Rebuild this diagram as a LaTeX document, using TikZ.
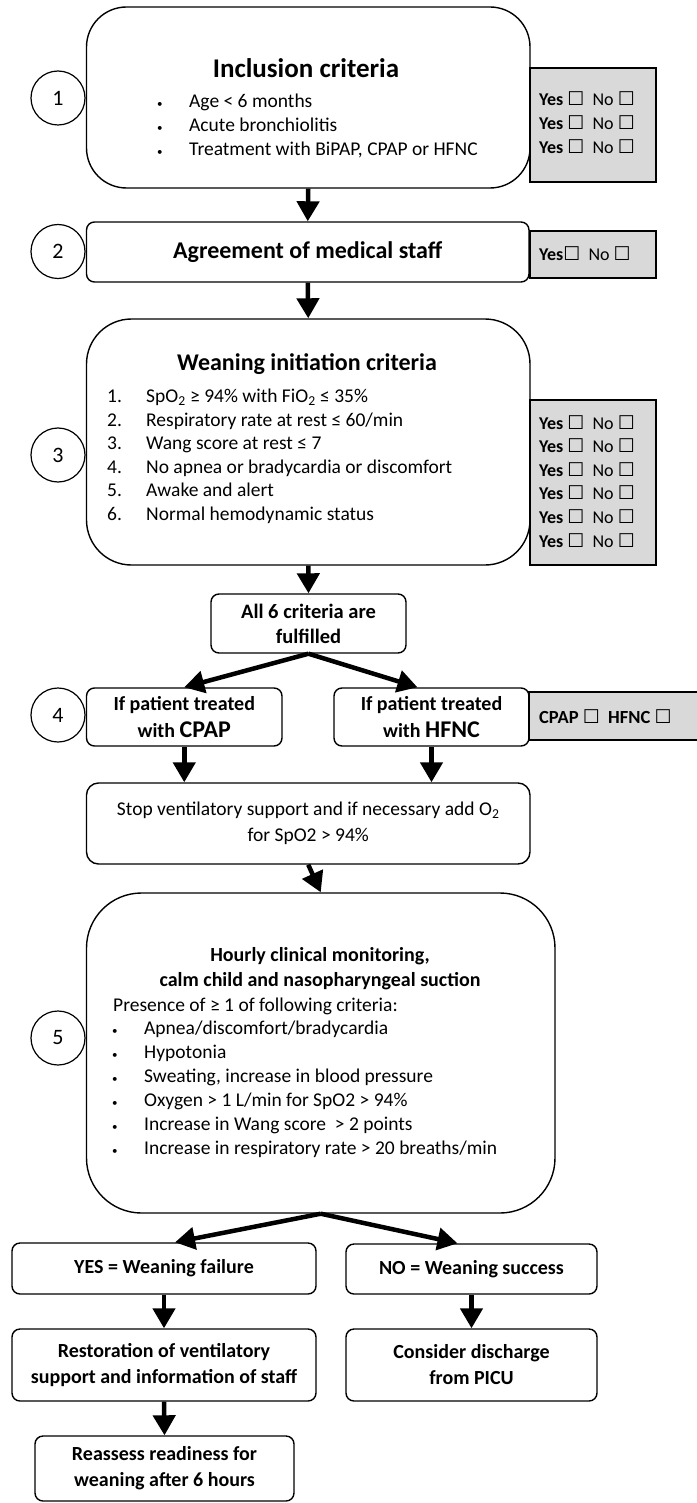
\documentclass[tikz,border=0pt]{standalone}
\usepackage{fontspec}
\setmainfont{Carlito}
\newfontfamily\symfont{DejaVu Sans}
\usetikzlibrary{arrows.meta,calc}
\definecolor{boxgray}{HTML}{D9D9D9}
\newcommand{\chk}{{\symfont\fontsize{19}{19}\selectfont ☐}}
\newcommand{\chkb}{{\symfont\bfseries\fontsize{19}{19}\selectfont ☐}}
\newcommand{\blt}{{\fontsize{11}{11}\selectfont\textbullet}}

\begin{document}
\begin{tikzpicture}[x=1pt,y=-1pt,
  box/.style={draw, line width=1.4pt, rounded corners=8pt, inner sep=0pt, align=center},
  graybox/.style={draw, line width=1.6pt, fill=boxgray, inner sep=0pt},
  numcirc/.style={circle, draw, line width=1.2pt, minimum size=54pt, inner sep=0pt, font=\fontsize{22}{22}\selectfont},
  head/.style={inner sep=0pt, text height=0.72em, text depth=0.22em},
  lst/.style={inner sep=0pt, font=\fontsize{19.5}{24}\selectfont},
  yn/.style={inner sep=0pt, font=\fontsize{18}{23.6}\selectfont},
  flow/.style={line width=4.5pt, -{Triangle[width=22pt,length=20pt]}}]
  % \draw[step=50,thin,gray!40] (0,0) grid (696,1503);
  \useasboundingbox (0,0) rectangle (696,1503);

  % 1
  \node[box, rounded corners=40pt, minimum width=443.5pt, minimum height=181pt] (inclBox) at (308.25,97.5) {};
  \node[graybox, minimum width=126pt, minimum height=114pt] (yesNoA) at (593,125) {};
  \node[numcirc] (circleOne) at (58,98) {1};
  \node[head, font=\bfseries\fontsize{27}{27}\selectfont] (inclTitle) at (306,75) {Inclusion criteria};
  \node[lst, anchor=base west] (inclList) at (157,107.5) {\begin{tabular}[t]{@{}p{32pt}@{}l@{}}
    \blt & Age < 6 months\\
    \blt & Acute bronchiolitis\\
    \blt & Treatment with BiPAP, CPAP or HFNC
  \end{tabular}};
  \node[yn, anchor=base west] (yesNoAText) at (539,106) {\begin{tabular}[t]{@{}l@{}}
    \textbf{Yes} \chkb\ \ No \chk\\
    \textbf{Yes} \chkb\ \ No \chk\\
    \textbf{Yes} \chkb\ \ No \chk
  \end{tabular}};

  % 2
  \node[box, minimum width=442.5pt, minimum height=60pt, font=\bfseries\fontsize{24}{24}\selectfont] (agreeBox) at (307.75,252) {Agreement of medical staff};
  \node[graybox, minimum width=126pt, minimum height=47pt] (yesNoB) at (593,254.5) {};
  \node[numcirc] (circleTwo) at (58,251.5) {2};
  \node[yn, anchor=base west] (yesNoBText) at (539,261) {\textbf{Yes}\chkb\ \ No \chk};

  % 3
  \node[box, rounded corners=45pt, minimum width=443.5pt, minimum height=246pt] (weanBox) at (308.25,442) {};
  \node[graybox, minimum width=126pt, minimum height=165pt] (yesNoC) at (593,482.5) {};
  \node[numcirc] (circleThree) at (58,455) {3};
  \node[head, font=\bfseries\fontsize{24}{24}\selectfont] (weanTitle) at (307,368) {Weaning initiation criteria};
  \node[lst, font=\fontsize{19.5}{23.6}\selectfont, anchor=base west] (weanList) at (107,402.5) {\begin{tabular}[t]{@{}p{39pt}@{}l@{}}
    1. & SpO\textsubscript{2} ≥ 94\% with FiO\textsubscript{2} ≤ 35\%\\
    2. & Respiratory rate at rest ≤ 60/min\\
    3. & Wang score at rest ≤ 7\\
    4. & No apnea or bradycardia or discomfort\\
    5. & Awake and alert\\
    6. & Normal hemodynamic status
  \end{tabular}};
  \node[yn, anchor=base west] (yesNoCText) at (539,429) {\begin{tabular}[t]{@{}l@{}}
    \textbf{Yes} \chkb\ \ No \chk\\
    \textbf{Yes} \chkb\ \ No \chk\\
    \textbf{Yes} \chkb\ \ No \chk\\
    \textbf{Yes} \chkb\ \ No \chk\\
    \textbf{Yes} \chkb\ \ No \chk\\
    \textbf{Yes} \chkb\ \ No \chk
  \end{tabular}};

  % 4
  \node[box, minimum width=195pt, minimum height=59pt, font=\bfseries\fontsize{20.5}{25}\selectfont] (allBox) at (308.5,623.5) {All 6 criteria are\\fulfilled};
  \node[box, minimum width=195.5pt, minimum height=58pt, font=\bfseries\fontsize{20}{27}\selectfont] (cpapBox) at (184.25,717) {If patient treated\\with {\fontsize{24}{24}\selectfont CPAP}};
  \node[box, minimum width=195pt, minimum height=58pt, font=\bfseries\fontsize{20}{27}\selectfont] (hfncBox) at (431.5,717) {If patient treated\\with {\fontsize{24}{24}\selectfont HFNC}};
  \node[graybox, minimum width=169pt, minimum height=48pt] (modeGray) at (613.5,716) {};
  \node[numcirc] (circleFour) at (58,715) {4};
  \node[yn, font=\bfseries\fontsize{18.5}{18.5}\selectfont, anchor=base west] (modeText) at (539,723) {CPAP \chkb\ \ HFNC \chkb};

  \node[box, rounded corners=12pt, minimum width=443.5pt, minimum height=81pt, font=\fontsize{19.5}{26}\selectfont] (stopBox) at (308.25,823.5) {Stop ventilatory support and if necessary add O\textsubscript{2}\\for SpO2 > 94\%};

  % 5
  \node[box, rounded corners=55pt, minimum width=468.5pt, minimum height=320pt] (monBox) at (320.75,1053) {};
  \node[numcirc] (circleFive) at (58,1038) {5};
  \node[inner sep=0pt, align=center, font=\bfseries\fontsize{20}{25}\selectfont] (monTitle) at (320,968.5) {Hourly clinical monitoring,\\calm child and nasopharyngeal suction};
  \node[lst, anchor=base west] (presText) at (113,1011.5) {Presence of ≥ 1 of following criteria:};
  \node[lst, anchor=base west] (monList) at (112,1034.5) {\begin{tabular}[t]{@{}p{32pt}@{}l@{}}
    \blt & Apnea/discomfort/bradycardia\\
    \blt & Hypotonia\\
    \blt & Sweating, increase in blood pressure\\
    \blt & Oxygen > 1 L/min for SpO2 > 94\%\\
    \blt & Increase in Wang score \ > 2 points\\
    \blt & Increase in respiratory rate > 20 breaths/min
  \end{tabular}};

  % outcome
  \node[box, minimum width=304pt, minimum height=51pt, font=\bfseries\fontsize{20}{26}\selectfont] (failBox) at (164,1268.5) {YES = Weaning failure};
  \node[box, minimum width=251pt, minimum height=50pt, font=\bfseries\fontsize{20}{26}\selectfont] (succBox) at (471.5,1269) {NO = Weaning success};
  \node[box, minimum width=304pt, minimum height=72pt, font=\bfseries\fontsize{20}{26}\selectfont] (restoreBox) at (164,1365) {Restoration of ventilatory\\support and information of staff};
  \node[box, minimum width=251pt, minimum height=72pt, font=\bfseries\fontsize{20}{26}\selectfont] (consBox) at (471.5,1365) {Consider discharge\\from PICU};
  \node[box, minimum width=259pt, minimum height=65pt, font=\bfseries\fontsize{20}{26}\selectfont] (reassessBox) at (164.5,1468.5) {Reassess readiness for\\weaning after 6 hours};

  \draw[flow] (inclBox.south) -- (agreeBox.north);
  \draw[flow] (agreeBox.south) -- (weanBox.north);
  \draw[flow] (weanBox.south) -- (allBox.north);
  \draw[flow] (allBox.south) -- (cpapBox.north);
  \draw[flow] (allBox.south) -- ($(hfncBox.north)+(-14,0)$);
  \draw[flow] (cpapBox.south) -- (cpapBox.south |- stopBox.north);
  \draw[flow] (hfncBox.south) -- (hfncBox.south |- stopBox.north);
  \draw[flow] (stopBox.south) -- (monBox.north);
  \draw[flow] (monBox.south) -- ($(failBox.north)+(11,0)$);
  \draw[flow] (monBox.south) -- ($(succBox.north)+(-14,0)$);
  \draw[flow] (failBox.south) -- (restoreBox.north);
  \draw[flow] (succBox.south) -- (consBox.north);
  \draw[flow] (restoreBox.south) -- (reassessBox.north);
\end{tikzpicture}
\end{document}
